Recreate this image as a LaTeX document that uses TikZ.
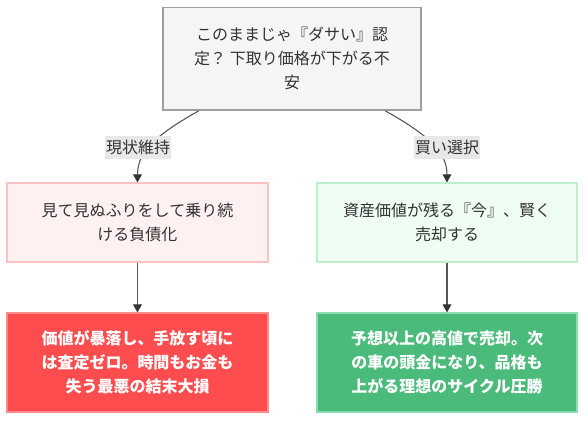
\documentclass[tikz,border=0pt]{standalone}
\usepackage{fontspec}
\setmainfont{Noto Sans CJK JP}
\usetikzlibrary{arrows.meta}
\definecolor{txt}{HTML}{333333}
\definecolor{edgec}{HTML}{555555}
\definecolor{topfill}{HTML}{F5F5F5}
\definecolor{topdraw}{HTML}{9E9E9E}
\definecolor{pinkfill}{HTML}{FFF1F1}
\definecolor{pinkdraw}{HTML}{FFC2C2}
\definecolor{mintfill}{HTML}{EFFDF3}
\definecolor{mintdraw}{HTML}{BDEFCB}
\definecolor{redfill}{HTML}{FF4D4F}
\definecolor{reddraw}{HTML}{FF8A8A}
\definecolor{grnfill}{HTML}{4ABB7A}
\definecolor{grndraw}{HTML}{8ADDB0}
\definecolor{lblfill}{HTML}{E8E8E8}
\begin{document}
\begin{tikzpicture}[x=0.75pt,y=-0.75pt,
  box/.style={rectangle, line width=1.1pt, align=center, inner sep=0pt,
    font=\fontsize{12pt}{18pt}\selectfont, text=txt},
  edge/.style={draw=edgec, line width=0.8pt, -{Triangle[length=6pt,width=6.5pt,color=txt]}},
  lbl/.style={fill=lblfill, inner xsep=1pt, inner ysep=2pt, font=\fontsize{12pt}{14pt}\selectfont, text=txt, minimum height=17pt}
]
\useasboundingbox (0,0) rectangle (586,422);
\node[box, fill=topfill, draw=topdraw, minimum width=193.5pt, minimum height=77pt] (top) at (292,58.8)
  {このままじゃ『ダサい』認\\定？ 下取り価格が下がる不\\安};
\node[box, fill=pinkfill, draw=pinkdraw, minimum width=195.5pt, minimum height=59pt] (m1) at (137.5,222.5)
  {見て見ぬふりをして乗り続\\ける負債化};
\node[box, fill=mintfill, draw=mintdraw, minimum width=195pt, minimum height=59pt] (m2) at (447,222.5)
  {資産価値が残る『今』、賢く\\売却する};
\node[box, fill=redfill, draw=reddraw, minimum width=195.5pt, minimum height=74pt, text=white, font=\fontsize{12pt}{18pt}\selectfont\bfseries] (b1) at (137.5,362.5)
  {価値が暴落し、手放す頃に\\は査定ゼロ。時間もお金も\\失う最悪の結末大損};
\node[box, fill=grnfill, draw=grndraw, minimum width=195pt, minimum height=74pt, text=white, font=\fontsize{12pt}{18pt}\selectfont\bfseries] (b2) at (447,362.5)
  {予想以上の高値で売却。次\\の車の頭金になり、品格も\\上がる理想のサイクル圧勝};
\draw[edge] (top) .. controls (150,138) and (137.5,155) .. (m1.north);
\draw[edge] (top) .. controls (434,138) and (447,155) .. (m2.north);
\node[lbl] (l1) at (138,147.5) {現状維持};
\node[lbl] (l2) at (447,147.5) {買い選択};
\draw[edge] (m1) -- (b1);
\draw[edge] (m2) -- (b2);
\end{tikzpicture}
\end{document}
